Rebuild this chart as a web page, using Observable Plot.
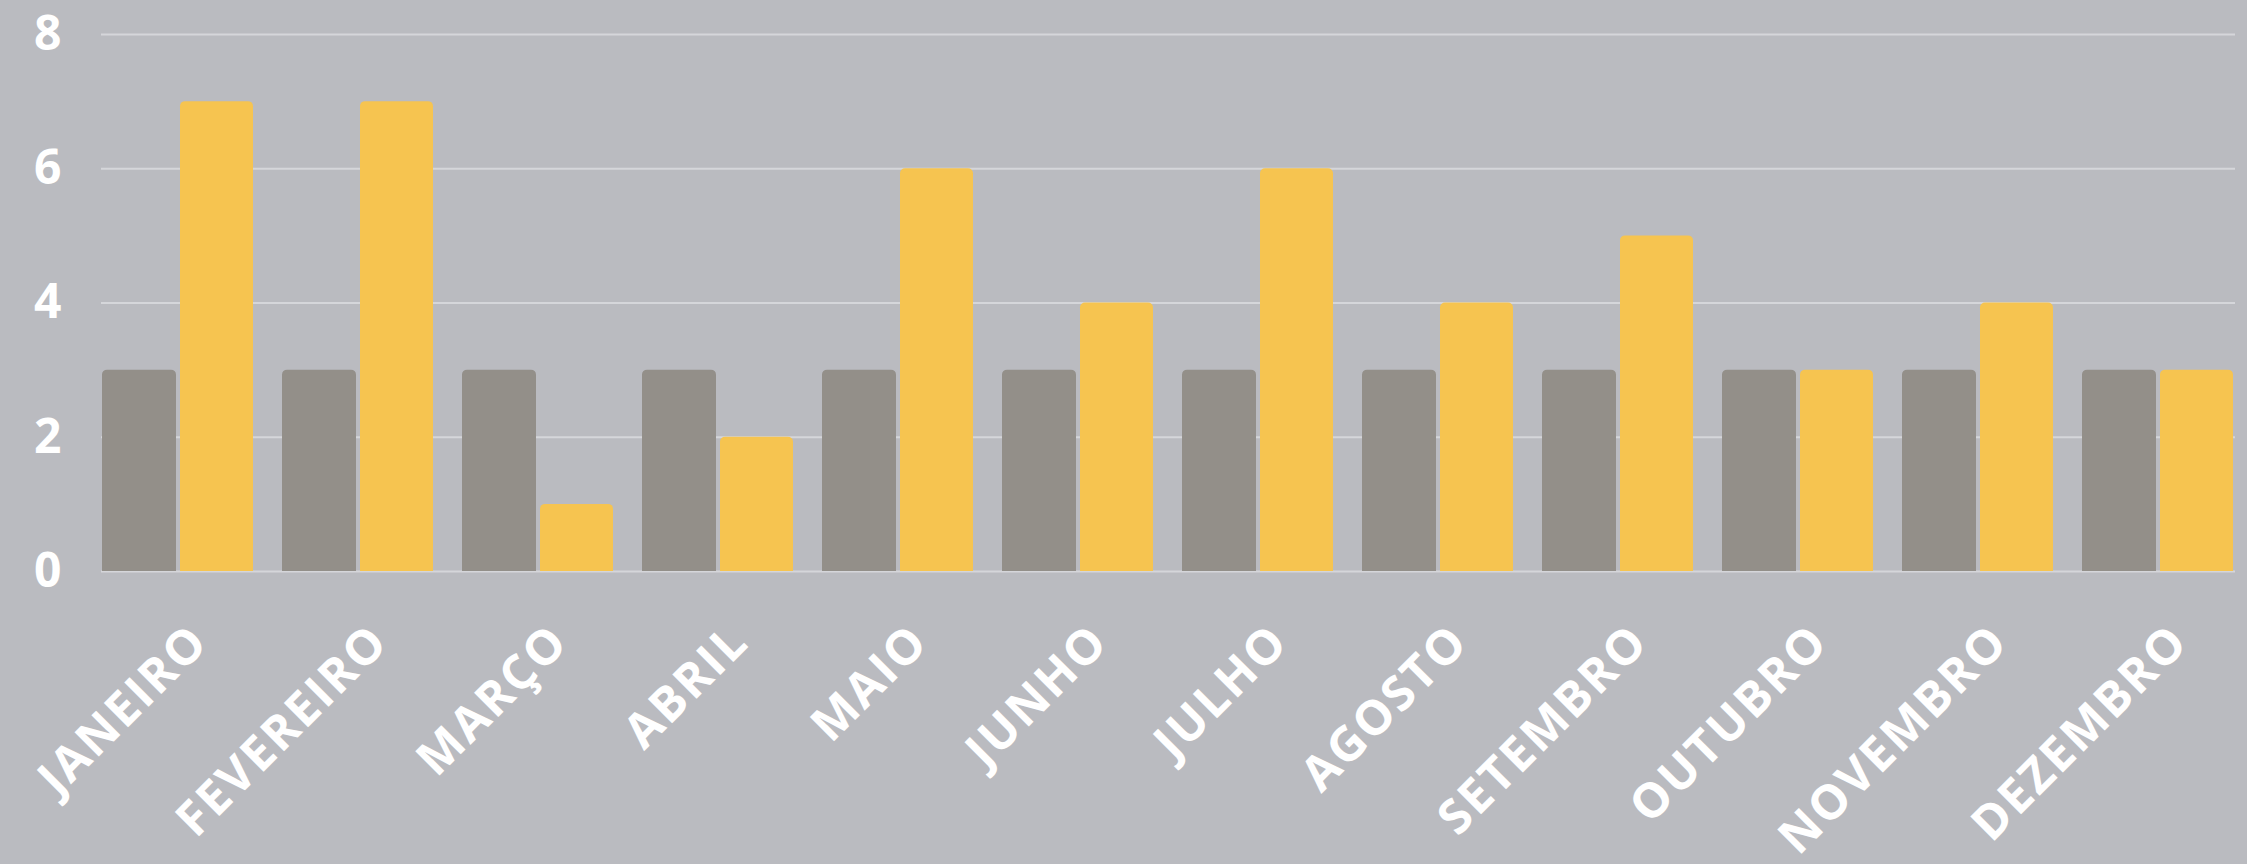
<!DOCTYPE html>
<html>
<head>
<meta charset="utf-8">
<script src="https://cdn.jsdelivr.net/npm/d3@7"></script>
<script src="https://cdn.jsdelivr.net/npm/@observablehq/plot@0.6"></script>
<style>
  html, body { margin: 0; padding: 0; background: #babbc0; }
  #chart svg { display: block; }
  #chart svg g[aria-label="x-axis tick label"] text { letter-spacing: 2.2px; }
</style>
</head>
<body>
<div id="chart"></div>
<script>
const months = ["JANEIRO","FEVEREIRO","MARÇO","ABRIL","MAIO","JUNHO","JULHO","AGOSTO","SETEMBRO","OUTUBRO","NOVEMBRO","DEZEMBRO"];
const seriesA = [3,3,3,3,3,3,3,3,3,3,3,3];
const seriesB = [7,7,1,2,6,4,6,4,5,3,4,3];
const yTicks = [0,2,4,6,8];

const dataA = months.map((m, i) => ({month: m, value: seriesA[i]}));
const dataB = months.map((m, i) => ({month: m, value: seriesB[i]}));

const chart = Plot.plot({
  width: 2247,
  height: 864,
  marginTop: 34,
  marginBottom: 293,
  marginLeft: 101,
  marginRight: 12,
  style: {background: "#babbc0", fontFamily: "'Open Sans', sans-serif", overflow: "visible"},
  x: {domain: months, paddingInner: 0.161, paddingOuter: 0, label: null},
  y: {domain: [0, 8], label: null},
  marks: [
    Plot.ruleY(yTicks, {stroke: "#d5d6da", strokeWidth: 2}),
    Plot.barY(dataA, {x: "month", y: "value", fill: "#938f89", insetRight: 77, insetBottom: -8, rx: 5, clip: true}),
    Plot.barY(dataB, {x: "month", y: "value", fill: "#f6c450", insetLeft: 78, insetBottom: -8, rx: 5, clip: true}),
    Plot.axisY({ticks: yTicks, tickSize: 0, tickPadding: 40, fontSize: 48, fontWeight: "bold", fill: "white", label: null}),
    Plot.axisX({tickSize: 0, tickPadding: 62, tickRotate: -45, fontSize: 48, fontWeight: "bold", fill: "white", dx: 22, label: null})
  ]
});
document.getElementById("chart").appendChild(chart);
</script>
</body>
</html>
